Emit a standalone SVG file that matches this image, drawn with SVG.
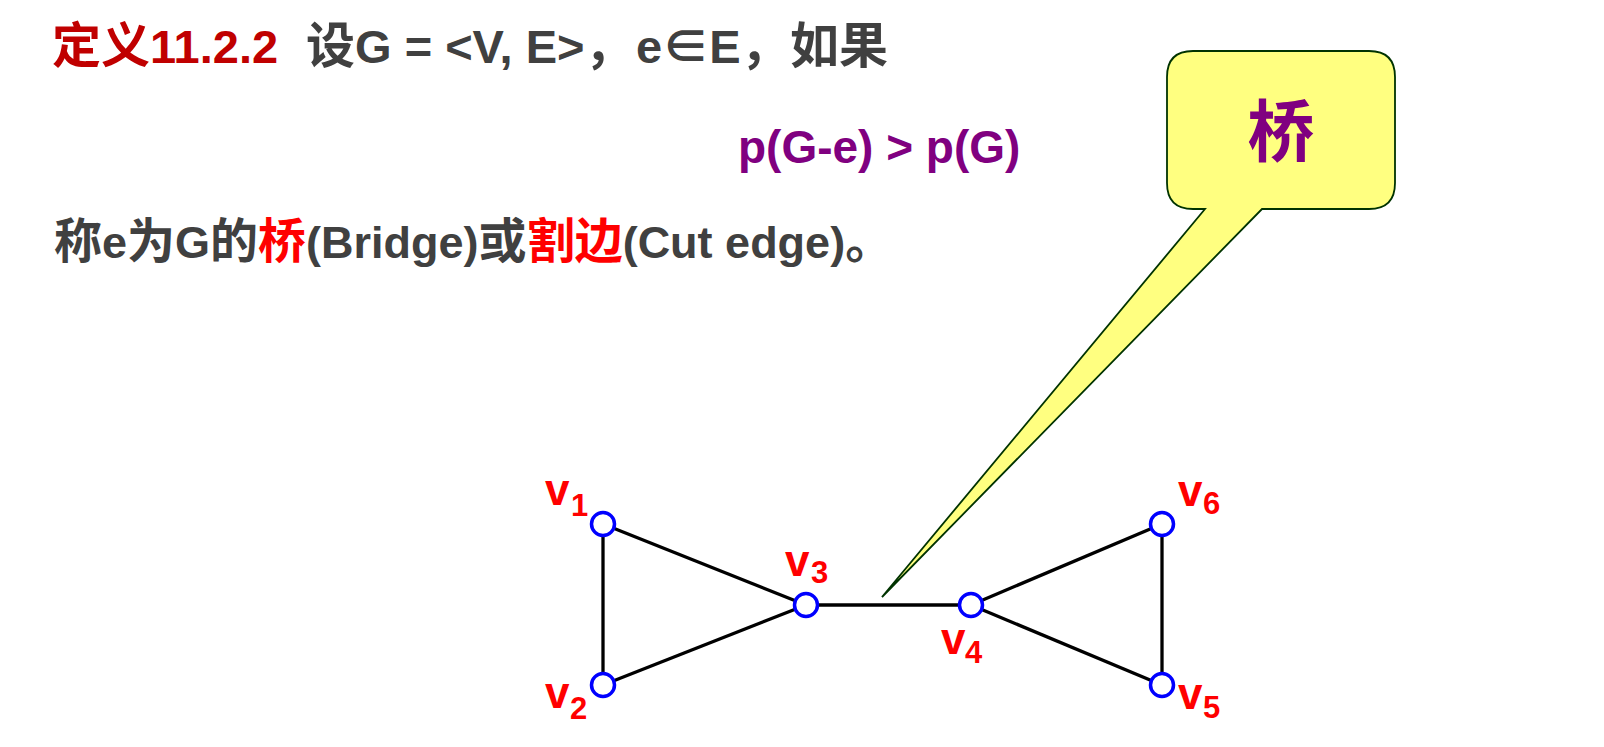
<svg xmlns="http://www.w3.org/2000/svg" width="1604" height="747" viewBox="0 0 1604 747">
<style>
.t{font-family:"Liberation Sans","Noto Sans CJK SC",sans-serif;font-weight:bold;}
.main{font-size:45px;fill:#404040;}
.ttl{font-size:47px;fill:#404040;}
.cj{font-size:48px;font-family:"Noto Sans CJK SC",sans-serif;}
.cj2{font-size:49px;font-family:"Noto Sans CJK SC",sans-serif;}
.dk{fill:#C00000;}
.rd{fill:#FF0000;}
.pu{fill:#800080;}
.edge{stroke:#000;stroke-width:3.3;fill:none;}
.node{fill:#fff;stroke:#0000FF;stroke-width:3.5;}
.lab{font-size:44px;fill:#FF0000;}
.sub{font-size:31px;fill:#FF0000;}
</style>
<rect width="1604" height="747" fill="#fff"/>
<g id="text">
<text class="t ttl" x="52" y="63"><tspan class="dk"><tspan class="cj2">定义</tspan>11.2.2</tspan><tspan x="306" class="cj2">设</tspan>G = &lt;V, E&gt;<tspan class="cj2">，</tspan><tspan x="636">e∈E</tspan><tspan class="cj2">，</tspan><tspan x="790" class="cj2">如果</tspan></text>
<text class="t pu" font-size="46" x="738" y="163">p(G-e) &gt; p(G)</text>
<text class="t main" x="54" y="258"><tspan class="cj">称</tspan>e<tspan class="cj">为</tspan>G<tspan class="cj">的</tspan><tspan class="rd cj">桥</tspan>(Bridge)<tspan class="cj">或</tspan><tspan class="rd cj">割边</tspan>(Cut edge)<tspan class="cj">。</tspan></text>
</g>
<g id="callout">
<path d="M1193,51 H1369 Q1395,51 1395,77 V183 Q1395,209 1369,209 H1262 L882,597 L1205,209 H1193 Q1167,209 1167,183 V77 Q1167,51 1193,51 Z" fill="#FFFF80" stroke="#003300" stroke-width="1.8"/>
<text class="t pu" x="1281" y="156" font-size="67" text-anchor="middle">桥</text>
</g>
<g id="connectors">
<line class="edge" x1="603" y1="524" x2="603" y2="685"/>
<line class="edge" x1="603" y1="524" x2="806" y2="605"/>
<line class="edge" x1="603" y1="685" x2="806" y2="605"/>
<line class="edge" x1="806" y1="605" x2="971" y2="605"/>
<line class="edge" x1="971" y1="605" x2="1162" y2="524"/>
<line class="edge" x1="971" y1="605" x2="1162" y2="685"/>
<line class="edge" x1="1162" y1="524" x2="1162" y2="685"/>
</g>
<g id="v1"><circle class="node" cx="603" cy="524" r="11.5"/><text class="t lab" x="545" y="505">v</text><text class="t sub" x="571" y="516">1</text></g>
<g id="v2"><circle class="node" cx="603" cy="685" r="11.5"/><text class="t lab" x="545" y="708">v</text><text class="t sub" x="570" y="719">2</text></g>
<g id="v3"><circle class="node" cx="806" cy="605" r="11.5"/><text class="t lab" x="785" y="576">v</text><text class="t sub" x="811" y="583">3</text></g>
<g id="v4"><circle class="node" cx="971" cy="605" r="11.5"/><text class="t lab" x="941" y="654">v</text><text class="t sub" x="965" y="663">4</text></g>
<g id="v5"><circle class="node" cx="1162" cy="685" r="11.5"/><text class="t lab" x="1178" y="709">v</text><text class="t sub" x="1203" y="718">5</text></g>
<g id="v6"><circle class="node" cx="1162" cy="524" r="11.5"/><text class="t lab" x="1178" y="506">v</text><text class="t sub" x="1203" y="514">6</text></g>
</svg>
